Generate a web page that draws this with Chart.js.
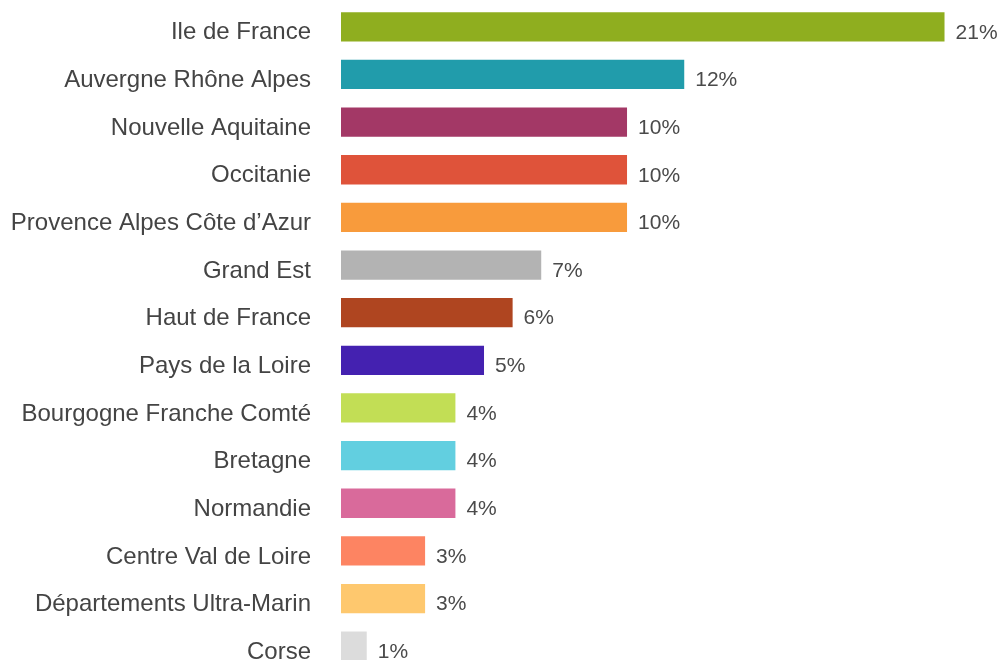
<!DOCTYPE html>
<html lang="fr">
<head>
<meta charset="utf-8">
<title>Répartition par région</title>
<script src="https://cdn.jsdelivr.net/npm/chart.js@4/dist/chart.umd.min.js"></script>
<style>
  html, body { margin: 0; padding: 0; background: #fff; overflow: hidden; }
  #wrap { width: 1003px; height: 670px; }
</style>
</head>
<body>
<div id="wrap"><canvas id="regionChart" width="1003" height="670"></canvas></div>
<script>
const regions = [
  "Ile de France",
  "Auvergne Rhône Alpes",
  "Nouvelle Aquitaine",
  "Occitanie",
  "Provence Alpes Côte d’Azur",
  "Grand Est",
  "Haut de France",
  "Pays de la Loire",
  "Bourgogne Franche Comté",
  "Bretagne",
  "Normandie",
  "Centre Val de Loire",
  "Départements Ultra-Marin",
  "Corse",
];
const shares = [21.1, 12, 10, 10, 10, 7, 6, 5, 4, 4, 4, 2.94, 2.94, 0.9];
const barColors = [
  "#8fae1f", "#219cab", "#a33866", "#df533a", "#f89b3c", "#b3b3b3", "#af4520",
  "#4421b0", "#c2de55", "#62cfe0", "#d96a9b", "#fd8462", "#fec86e", "#dcdcdc",
];

// étiquettes de valeur à droite des barres
const valueLabels = {
  id: "valueLabels",
  afterDatasetsDraw(chart) {
    const { ctx } = chart;
    const meta = chart.getDatasetMeta(0);
    ctx.save();
    ctx.font = "21px 'Liberation Sans', Arial, sans-serif";
    ctx.fillStyle = "#4a4a4a";
    ctx.textAlign = "left";
    ctx.textBaseline = "middle";
    meta.data.forEach((bar, i) => {
      ctx.fillText(Math.round(shares[i]) + "%", bar.x + 11, bar.y + 6);
    });
    ctx.restore();
  },
};

const ctx = document.getElementById("regionChart").getContext("2d");
new Chart(ctx, {
  type: "bar",
  data: {
    labels: regions,
    datasets: [
      {
        data: shares,
        backgroundColor: barColors,
        barPercentage: 0.615,
        categoryPercentage: 1,
      },
    ],
  },
  options: {
    indexAxis: "y",
    responsive: false,
    animation: false,
    layout: { padding: { top: 3, right: 13, bottom: 0, left: 0 } },
    plugins: { legend: { display: false }, tooltip: { enabled: false } },
    scales: {
      x: {
        display: false,
        min: 0,
        max: 22.69,
      },
      y: {
        grid: { display: false },
        border: { display: false },
        afterFit(scale) {
          scale.width = 341;
          scale.paddingTop = 0;
          scale.paddingBottom = 0;
        },
        ticks: {
          color: "#444",
          padding: 22,
          labelOffset: 6,
          font: { family: "'Liberation Sans', Arial, sans-serif", size: 24 },
        },
      },
    },
  },
  plugins: [valueLabels],
});
</script>
</body>
</html>
